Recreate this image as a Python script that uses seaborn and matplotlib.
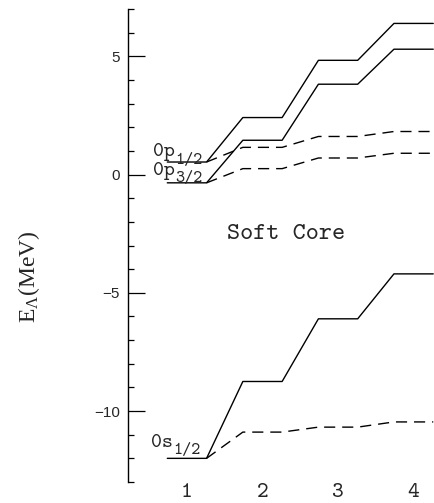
import numpy as np
import pandas as pd
import matplotlib
matplotlib.use("Agg")
import matplotlib.pyplot as plt
import seaborn as sns
from matplotlib.ticker import MultipleLocator, FixedLocator

sns.set_theme(style="white")
plt.rcParams["mathtext.default"] = "regular"

# ---- data ----
steps = [1, 2, 3, 4]
p12_solid = [0.53, 2.41, 4.83, 6.39]
p32_solid = [-0.35, 1.45, 3.82, 5.30]
p12_dashed = [0.53, 1.15, 1.61, 1.82]
p32_dashed = [-0.35, 0.25, 0.70, 0.90]
s12_solid = [-12.0, -8.75, -6.10, -4.20]
s12_dashed = [-12.0, -10.89, -10.68, -10.46]
y_major = [-10, -5, 0, 5]
x_ticklabels = ["1", "2", "3", "4"]

HW = 0.26  # half-width of a level bar


def stepped(levels, skip_first=False):
    xs, ys = [], []
    for k, v in zip(steps, levels):
        xs += [k - HW, k + HW]
        ys += [v, v]
    if skip_first:
        xs, ys = xs[1:], ys[1:]
    return xs, ys


rows = []
for name, vals, kind in [
    ("p12s", p12_solid, "solid"),
    ("p32s", p32_solid, "solid"),
    ("s12s", s12_solid, "solid"),
    ("p12d", p12_dashed, "dashed"),
    ("p32d", p32_dashed, "dashed"),
    ("s12d", s12_dashed, "dashed"),
]:
    xs, ys = stepped(vals, skip_first=(kind == "dashed"))
    for i, (x, y) in enumerate(zip(xs, ys)):
        rows.append({"x": x, "y": y, "series": name, "kind": kind, "order": i})
df = pd.DataFrame(rows)

W, H = 434, 503
fig = plt.figure(figsize=(W / 100, H / 100), dpi=100)
ax = fig.add_axes([128 / W, 1 - 482 / H, 1 - 128 / W, (482 - 9) / H])

sns.lineplot(
    data=df, x="x", y="y", units="series", estimator=None, sort=False,
    style="kind", dashes={"solid": "", "dashed": (8, 5)},
    color="black", linewidth=1.0, legend=False, ax=ax,
)

ax.set_xlim(0.22, 4.27)
ax.set_ylim(-13, 7)
ax.set_xlabel("")
ax.set_ylabel("")

for s in ["top", "right", "bottom"]:
    ax.spines[s].set_visible(False)
ax.spines["left"].set_color("black")
ax.spines["left"].set_linewidth(1.0)

ax.yaxis.set_major_locator(FixedLocator(y_major))
ax.yaxis.set_minor_locator(MultipleLocator(1))
ax.tick_params(axis="y", which="major", direction="in", length=12, width=0.9,
               color="black", labelsize=11, pad=6, left=True)
ax.tick_params(axis="y", which="minor", direction="in", length=4.3, width=0.9,
               color="black", left=True)
for lab in ax.get_yticklabels():
    lab.set_family("Liberation Sans")

ax.set_xticks(steps)
ax.set_xticklabels(x_ticklabels, family="cmtt10", fontsize=16)
ax.tick_params(axis="x", length=0, pad=1)

# level labels
ax.text(0.55, 0.78, "0p", family="cmtt10", fontsize=15, va="baseline")
ax.text(0.84, 0.45, "1/2", family="cmtt10", fontsize=12.5, va="baseline")
ax.text(0.55, -0.01, "0p", family="cmtt10", fontsize=15, va="baseline")
ax.text(0.84, -0.33, "3/2", family="cmtt10", fontsize=12.5, va="baseline")
ax.text(0.53, -11.51, "0s", family="cmtt10", fontsize=15, va="baseline")
ax.text(0.82, -11.80, "1/2", family="cmtt10", fontsize=12.5, va="baseline")

ax.text(1.53, -2.74, "Soft Core", family="cmtt10", fontsize=18, va="baseline")

fig.text(29 / W, 1 - 277 / H, r"E$_\Lambda$(MeV)", family="Liberation Serif",
         fontsize=17, rotation=90, ha="center", va="center")

fig.savefig("out.png", dpi=100)
